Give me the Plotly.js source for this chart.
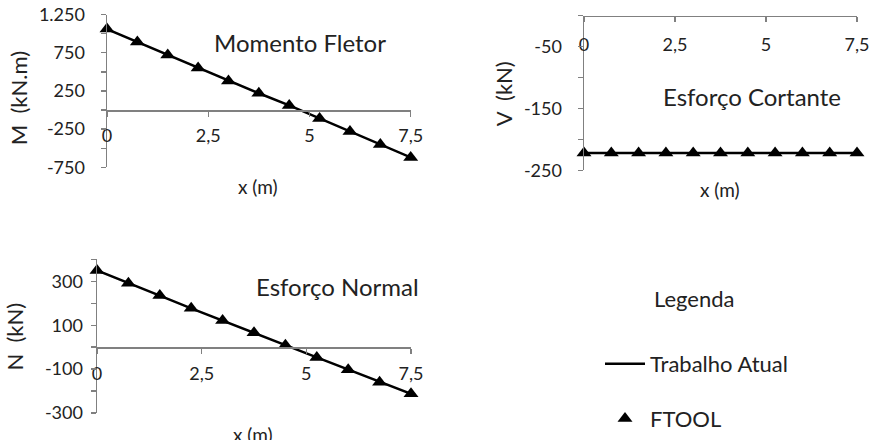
<!DOCTYPE html>
<html>
<head>
<meta charset="utf-8">
<script src="https://cdn.plot.ly/plotly-3.0.1.min.js"></script>
<style>html,body{margin:0;padding:0;background:#fff;overflow:hidden;}#chart{width:875px;height:440px;}</style>
</head>
<body>
<div id="chart"></div>
<script>
// ---- data ----
var xPos = [0, 0.75, 1.5, 2.25, 3, 3.75, 4.5, 5.25, 6, 6.75, 7.5];
var momento = [1060, 890, 720, 550, 380, 220, 60, -110, -280, -450, -620];
var cortante = [-222, -222, -222, -222, -222, -222, -222, -222, -222, -222, -222];
var normal = [350, 291, 235, 177, 122, 66, 9, -47, -103, -160, -213];
var xTickVals = [0, 2.5, 5, 7.5];
var xTickText = ['0', '2,5', '5', '7,5'];
var mTickVals = [-750, -500, -250, 0, 250, 500, 750, 1000, 1250];
var mTickText = ['-750', '', '-250', '', '250', '', '750', '', '1.250'];
var vTickVals = [-250, -200, -150, -100, -50, 0];
var vTickText = ['-250', '', '-150', '', '-50', ''];
var nTickVals = [-300, -200, -100, 0, 100, 200, 300, 400];
var nTickText = ['-300', '', '-100', '', '100', '', '300', ''];
var seriesNames = ['Trabalho Atual', 'FTOOL'];
var panelTitles = ['Momento Fletor', 'Esforço Cortante', 'Esforço Normal'];
var yTitles = ['M  (kN.m)', 'V  (kN)', 'N  (kN)'];
var xTitle = 'x (m)';
var legendTitle = 'Legenda';

// ---- layout helpers ----
var W = 875, H = 440;
function fx(px){ return px / W; }
function fy(py){ return 1 - py / H; }
var FONT = 'Lato, "DejaVu Sans", sans-serif';
var TXT = '#222222';
var AX = '#808080';

var yr1 = [-750, 1250], yr2 = [-250, 0], yr3 = [-300, 400];
var yd1 = [fy(172), fy(15)], yd2 = [fy(175), fy(16)], yd3 = [fy(424.5), fy(266.7)];
function zeroPos(r, d){ return d[0] + (0 - r[0]) / (r[1] - r[0]) * (d[1] - d[0]); }

function makeTraces(xa, ya, yv, legend){
  return [
    {x: xPos, y: yv, xaxis: xa, yaxis: ya, type: 'scatter', mode: 'lines',
     name: seriesNames[0], legendgroup: 'g1', showlegend: legend,
     line: {color: '#000', width: 2.5}, cliponaxis: false, hoverinfo: 'x+y'},
    {x: xPos, y: yv, xaxis: xa, yaxis: ya, type: 'scatter', mode: 'markers',
     name: seriesNames[1], legendgroup: 'g2', showlegend: legend,
     marker: {symbol: 'triangle-up', size: 13, color: '#000'}, cliponaxis: false, hoverinfo: 'x+y'}
  ];
}
var data = [].concat(
  makeTraces('x', 'y', momento, true),
  makeTraces('x2', 'y2', cortante, false),
  makeTraces('x3', 'y3', normal, false)
);

function xAxis(dom, pos, standoffLbl){
  return {
    domain: dom, range: [0, 7.5], anchor: 'free', position: pos,
    tickmode: 'array', tickvals: xTickVals, ticktext: xTickText,
    ticks: 'outside', ticklen: 5, tickcolor: AX, tickwidth: 1.3,
    showline: true, linecolor: AX, linewidth: 1.5, showgrid: false, zeroline: false,
    ticklabelstandoff: standoffLbl,
    tickfont: {family: FONT, size: 18, color: TXT},
    fixedrange: true
  };
}
function yAxis(dom, xanchorName, r, tv, tt, lblStandoff){
  return {
    domain: dom, range: r, anchor: xanchorName,
    tickmode: 'array', tickvals: tv, ticktext: tt,
    ticks: 'outside', ticklen: 5, tickcolor: AX, tickwidth: 1.3,
    showline: true, linecolor: AX, linewidth: 1.5, showgrid: false, zeroline: false,
    ticklabelstandoff: lblStandoff,
    tickfont: {family: FONT, size: 18, color: TXT},
    fixedrange: true
  };
}

var xd1 = [fx(107), fx(410.7)], xd2 = [fx(584), fx(857)], xd3 = [fx(97), fx(411)];

function txt(t, px, py, size, opts){
  var a = {text: t, xref: 'paper', yref: 'paper', x: fx(px), y: fy(py),
           xanchor: 'center', yanchor: 'middle', showarrow: false,
           font: {family: FONT, size: size, color: TXT}};
  for (var k in (opts || {})) a[k] = opts[k];
  return a;
}

var layout = {
  width: W, height: H,
  margin: {l: 0, r: 0, t: 0, b: 0},
  paper_bgcolor: '#fff', plot_bgcolor: 'rgba(0,0,0,0)',
  font: {family: FONT, color: TXT},
  showlegend: true,
  legend: {x: fx(600), xanchor: 'left', y: fy(353), yanchor: 'top',
           font: {family: FONT, size: 22, color: TXT},
           traceorder: 'grouped', tracegroupgap: 23, bgcolor: 'rgba(0,0,0,0)', itemwidth: 40},
  xaxis: xAxis(xd1, zeroPos(yr1, yd1), 4),
  yaxis: yAxis(yd1, 'x', yr1, mTickVals, mTickText, 12),
  xaxis2: xAxis(xd2, yd2[1], 7),
  yaxis2: yAxis(yd2, 'x2', yr2, vTickVals, vTickText, 12),
  xaxis3: xAxis(xd3, zeroPos(yr3, yd3), 5),
  yaxis3: yAxis(yd3, 'x3', yr3, nTickVals, nTickText, 4),
  annotations: [
    txt(panelTitles[0], 300, 44, 24),
    txt(panelTitles[1], 752, 99, 24),
    txt(panelTitles[2], 337, 295, 24),
    txt(legendTitle, 652, 307, 22, {xanchor: 'left'}),
    txt(xTitle, 258, 192, 19),
    txt(xTitle, 720, 195, 19),
    txt(xTitle, 253, 447, 19),
    txt(yTitles[0], 18, 101, 22, {textangle: -90}),
    txt(yTitles[1], 503, 97, 22, {textangle: -90}),
    txt(yTitles[2], 15, 346, 22, {textangle: -90})
  ]
};

Plotly.newPlot('chart', data, layout, {staticPlot: true, displayModeBar: false});
</script>
</body>
</html>
